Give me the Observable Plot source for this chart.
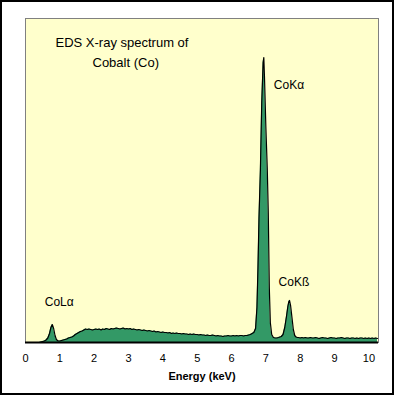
<!DOCTYPE html>
<html>
<head>
<meta charset="utf-8">
<script src="https://cdn.jsdelivr.net/npm/d3@7"></script>
<script src="https://cdn.jsdelivr.net/npm/@observablehq/plot@0.6"></script>
<style>
  html, body { margin: 0; padding: 0; background: #fff; }
  #wrap { position: relative; width: 396px; height: 396px; }
  #border { position: absolute; left: 0; top: 0; width: 394px; height: 395px; box-sizing: border-box; border: 2px solid #000; pointer-events: none; }
  #chart { position: absolute; left: 0; top: 0; }
</style>
</head>
<body>
<div id="wrap"><div id="chart"></div><div id="border"></div></div>
<script>
// ---- Data ----
const titleLines = ["EDS X-ray spectrum of", "Cobalt (Co)"];
const xLabel = "Energy (keV)";
const tickValues = [0, 1, 2, 3, 4, 5, 6, 7, 8, 9, 10];

// Spectrum: energy (keV) and counts
const energy = [
  0.00, 0.40, 0.45, 0.50, 0.55, 0.60, 0.65, 0.70, 0.74, 0.78,
  0.82, 0.86, 0.90, 0.95, 1.00, 1.05, 1.10, 1.15, 1.20, 1.25,
  1.30, 1.35, 1.40, 1.45,
  1.50, 1.55, 1.60, 1.65, 1.70, 1.75, 1.80, 1.85, 1.90, 1.95,
  2.00, 2.05, 2.10, 2.15, 2.20, 2.25, 2.30, 2.35, 2.40, 2.45,
  2.50, 2.55, 2.60, 2.65, 2.70, 2.75, 2.80, 2.85, 2.90, 2.95,
  3.00, 3.05, 3.10, 3.15, 3.20, 3.25, 3.30, 3.35, 3.40, 3.45,
  3.50, 3.55, 3.60, 3.65, 3.70, 3.75, 3.80, 3.85, 3.90, 3.95,
  4.00, 4.05, 4.10, 4.15, 4.20, 4.25, 4.30, 4.35, 4.40, 4.45,
  4.50, 4.55, 4.60, 4.65, 4.70, 4.75, 4.80, 4.85, 4.90, 4.95,
  5.00, 5.05, 5.10, 5.15, 5.20, 5.25, 5.30, 5.35, 5.40, 5.45,
  5.50, 5.55, 5.60, 5.65, 5.70, 5.75, 5.80, 5.85, 5.90, 5.95,
  6.00, 6.05, 6.10, 6.15, 6.20, 6.25, 6.30, 6.35, 6.40, 6.45,
  6.50, 6.55, 6.60,
  6.65, 6.70, 6.74, 6.77, 6.80, 6.84, 6.88, 6.92, 6.94, 6.96,
  7.00, 7.04, 7.07, 7.10, 7.13, 7.17, 7.22, 7.27, 7.32, 7.37,
  7.41, 7.45, 7.50, 7.55, 7.60, 7.64, 7.67, 7.69, 7.72, 7.76,
  7.80, 7.84, 7.88, 7.92,
  7.95, 8.00, 8.05, 8.10, 8.15, 8.20, 8.25, 8.30, 8.35, 8.40,
  8.45, 8.50, 8.55, 8.60, 8.65, 8.70, 8.75, 8.80, 8.85, 8.90,
  8.95, 9.00, 9.05, 9.10, 9.15, 9.20, 9.25, 9.30, 9.35, 9.40,
  9.45, 9.50, 9.55, 9.60, 9.65, 9.70, 9.75, 9.80, 9.85, 9.90,
  9.95, 10.00, 10.05, 10.10, 10.15, 10.20, 10.25
];
const counts = [
  0, 0, 5, 10, 15, 25, 45, 90, 150, 180,
  140, 70, 30, 15, 15, 20, 25, 30, 35, 45,
  50, 55, 65, 80,
  90, 100, 110, 115, 125, 135, 130, 135, 130, 125,
  130, 135, 130, 135, 125, 135, 130, 140, 135, 130,
  140, 135, 140, 145, 140, 135, 140, 145, 135, 140,
  135, 140, 130, 135, 130, 125, 130, 125, 120, 125,
  120, 115, 120, 115, 110, 115, 105, 110, 105, 100,
  105, 100, 100, 95, 100, 90, 95, 90, 95, 90,
  90, 85, 90, 85, 85, 80, 85, 80, 85, 80,
  80, 75, 80, 75, 75, 70, 75, 70, 70, 75,
  70, 65, 70, 65, 65, 60, 65, 65, 70, 65,
  65, 70, 65, 70, 65, 70, 70, 65, 70, 70,
  75, 80, 90,
  100, 140, 350, 750, 1250, 1720, 2400, 2800, 2850, 2650,
  2150, 1750, 1300, 550, 200, 80, 50, 45, 45, 50,
  55, 60, 80, 150, 260, 360, 410, 420, 370, 250,
  130, 70, 55, 50,
  50, 45, 50, 45, 50, 45, 45, 50, 45, 45,
  50, 45, 40, 45, 50, 45, 45, 40, 45, 50,
  45, 45, 40, 45, 45, 50, 45, 40, 45, 45,
  40, 45, 45, 40, 45, 40, 45, 45, 40, 45,
  40, 45, 40, 45, 40, 45, 40
];

// Peak annotations: line names and their energies (keV)
const peakNames = ["CoLα", "CoKα", "CoKß"];
const peakEnergy = [0.78, 6.94, 7.69];

// ---- Build ----
const spectrum = energy.map((e, i) => ({energy: e, counts: counts[i]}));
const peaks = peakNames.map((n, i) => {
  const e = peakEnergy[i];
  let best = spectrum[0];
  for (const d of spectrum) if (Math.abs(d.energy - e) < Math.abs(best.energy - e)) best = d;
  return {name: n, energy: best.energy, counts: best.counts};
});

const FONT = "'Liberation Sans', Arial, Helvetica, sans-serif";

const chart = Plot.plot({
  width: 396,
  height: 396,
  marginLeft: 25,
  marginRight: 18,
  marginTop: 18,
  marginBottom: 54,
  style: {fontFamily: FONT, background: "transparent", overflow: "visible", color: "#000"},
  x: {domain: [0, 10.28]},
  y: {domain: [0, 3240], axis: null},
  marks: [
    Plot.frame({fill: "#ffffcc", stroke: "#808080", strokeWidth: 1}),
    Plot.areaY(spectrum, {x: "energy", y: "counts", fill: "#339966"}),
    Plot.lineY(spectrum, {x: "energy", y: "counts", stroke: "#000", strokeWidth: 1.2}),
    Plot.ruleY([0], {stroke: "#000", strokeWidth: 2}),
    Plot.axisX({ticks: tickValues, tickSize: 0, tickPadding: 12, fontSize: 11, label: null, tickFormat: d => String(d)}),
    Plot.text([xLabel], {frameAnchor: "bottom", dy: 37, fontSize: 11, fontWeight: "bold", text: d => d}),
    Plot.text([titleLines[0]], {frameAnchor: "top-left", textAnchor: "start", dx: 30, dy: 19, fontSize: 13, text: d => d}),
    Plot.text([titleLines[1]], {frameAnchor: "top-left", textAnchor: "start", dx: 67, dy: 39, fontSize: 13, text: d => d}),
    Plot.text(peaks.filter(p => p.name === "CoKα"), {x: "energy", y: "counts", text: "name", textAnchor: "start", dx: 10, dy: 28, fontSize: 12}),
    Plot.text(peaks.filter(p => p.name === "CoKß"), {x: "energy", y: "counts", text: "name", textAnchor: "start", dx: -11, dy: -18, fontSize: 12}),
    Plot.text(peaks.filter(p => p.name === "CoLα"), {x: "energy", y: "counts", text: "name", textAnchor: "start", dx: -7.5, dy: -22, fontSize: 12})
  ]
});
document.getElementById("chart").appendChild(chart);
</script>
</body>
</html>
